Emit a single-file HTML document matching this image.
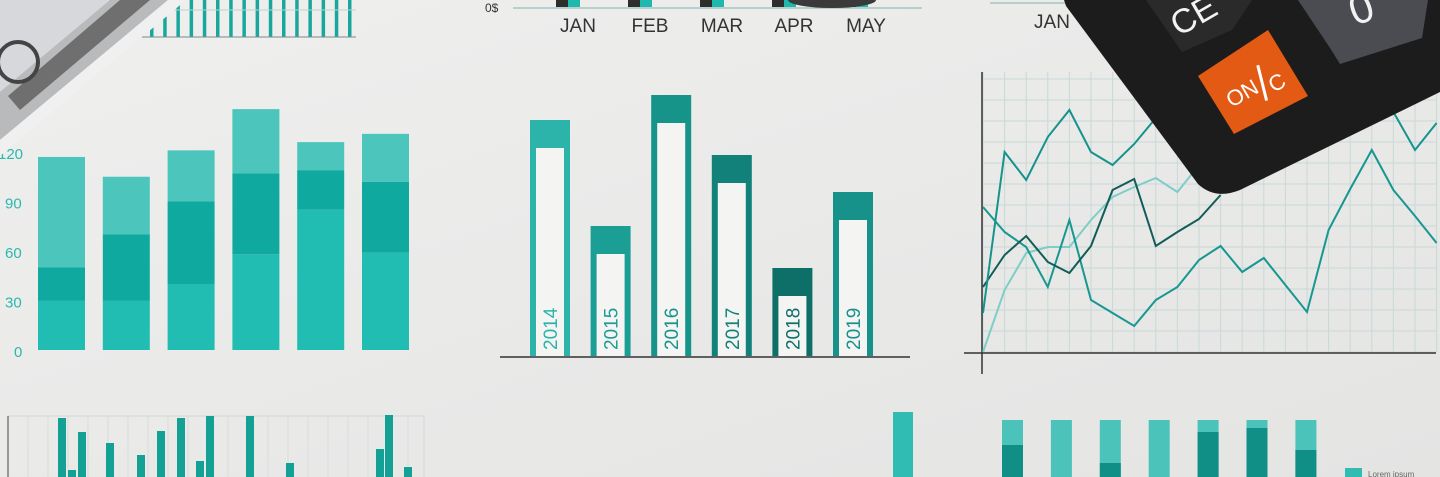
<!DOCTYPE html>
<html><head><meta charset="utf-8">
<style>
html,body{margin:0;padding:0;}
body{width:1440px;height:477px;overflow:hidden;background:#ebebea;font-family:"Liberation Sans",sans-serif;}
svg{display:block;}
</style></head>
<body>
<svg id="root" width="1440" height="477" viewBox="0 0 1440 477">
  <defs>
    <linearGradient id="bg" x1="0" y1="0" x2="1" y2="1">
      <stop offset="0" stop-color="#efefee"/><stop offset="1" stop-color="#e4e4e3"/>
    </linearGradient>
  </defs>
  <rect width="1440" height="477" fill="url(#bg)"/>
  <g id="stacked"></g>
  <g id="years"></g>
  <g id="lines"></g>
  <g id="top"></g>
  <g id="bottom"></g>
  <!-- banknote -->
  <g>
    <polygon points="0,0 186,0 0,156" fill="#e6e6e6"/>
    <polygon points="0,0 168,0 0,140" fill="#b9babc"/>
    <polygon points="0,0 110,0 0,92" fill="#d6d8dc"/>
    <polygon points="120,0 150,0 20,110 8,96" fill="#6f6f6f"/>
    <circle cx="18" cy="62" r="20" fill="none" stroke="#444" stroke-width="4"/>
    <polygon points="168,0 186,0 0,156 0,140" fill="#f0f0f0"/>
  </g>
  <!-- calculator -->
  <g>
    <path d="M1064,0 L1440,0 L1440,92 L1240,190 Q1215,200 1198,184 L1066,6 Z" fill="#1c1c1c"/>
    <polygon points="1146,0 1252,0 1232,30 1182,52" fill="#2a2a2a"/>
    <text x="1170" y="26" fill="#f2f2f2" font-size="34" transform="rotate(-30 1195 15)">CE</text>
    <polygon points="1298,0 1428,0 1422,38 1340,64 1330,48" fill="#4a4c52"/>
    <text x="1352" y="22" fill="#f2f2f2" font-size="42" transform="rotate(-20 1365 15)">0</text>
    <polygon points="1198,76 1268,30 1308,96 1234,134" fill="#e35a14"/>
    <g transform="rotate(-30 1253 83)">
      <text x="1222" y="94" fill="#fff" font-size="22">ON</text>
      <line x1="1266" y1="70" x2="1256" y2="105" stroke="#fff" stroke-width="3"/>
      <text x="1266" y="102" fill="#fff" font-size="22">C</text>
    </g>
  </g>
</svg>
<script>
const NS="http://www.w3.org/2000/svg";
function mk(parent,tag,attrs){const e=document.createElementNS(NS,tag);for(const k in attrs)e.setAttribute(k,attrs[k]);parent.appendChild(e);return e;}

// ---------- Stacked bar chart (left) ----------
const stackCats=["b1","b2","b3","b4","b5","b6"];
const stackLow=[30,30,40,58,85,59];
const stackMid=[20,40,50,49,24,43];
const stackTop=[67,35,31,39,17,29];
const stackTicks=[0,30,60,90,120];
(function(){
  const g=document.getElementById('stacked');
  const y0=350, k=1.65, x0=38, step=64.8, w=47;
  const yS=v=>y0-v*k;
  stackTicks.forEach(t=>{
    const tx=mk(g,'text',{x:t>=100?-2:(t===0?14:5),y:yS(t)+7,fill:'#2cb8ad','font-size':15});
    tx.textContent=t;
    
    
  });
  const cols=['#22bdb2','#0fa99f','#4cc6bc'];
  stackCats.forEach((c,i)=>{
    const x=x0+i*step;let acc=0;
    [stackLow[i],stackMid[i],stackTop[i]].forEach((v,j)=>{
      const r=mk(g,'rect',{x:x,y:yS(acc+v),width:w,height:v*k,fill:cols[j]});
      
      
      acc+=v;
    });
  });
})();

// ---------- Yearly bar chart (middle) ----------
const yearCats=["2014","2015","2016","2017","2018","2019"];
const yearVals=[236,130,261,201,88,164];
const yearCols=['#2db4aa','#1b9e94','#16948a','#12817a','#0e6f69','#16928b'];
(function(){
  const g=document.getElementById('years');
  const base=356, x0=530, step=60.6, w=40;
  const yS=v=>base-v;
  const ax=mk(g,'line',{x1:500,y1:base+1,x2:910,y2:base+1,stroke:'#333','stroke-width':1.5});
  
  
  yearCats.forEach((c,i)=>{
    const x=x0+i*step, top=yS(yearVals[i]);
    const r=mk(g,'rect',{x:x,y:top,width:w,height:base-top,fill:yearCols[i]});
    
    
    mk(g,'rect',{x:x+6,y:top+28,width:w-12,height:base-top-28,fill:'#f4f4f3'});
    const t=mk(g,'text',{x:x+w/2+7,y:base-6,fill:yearCols[i],'font-size':19,transform:`rotate(-90 ${x+w/2+7} ${base-6})`});
    t.textContent=c;
    
    
  });
})();

// ---------- Line chart (right) ----------
const lineA=[39,200,172,215,242,200,187,208,234,null,null,null,null,null,null,null,null,null,null,240,202,229];
const lineB=[145,120,105,65,132,52,39,26,52,65,92,106,80,94,67,40,122,163,202,162,136,109];
const lineC=[65,97,116,90,79,106,162,173,106,120,133,157,null,null,null,null,null,null,null,null,null,null];
const lineD=[0,62,99,105,105,132,155,165,174,160,187,null,null,null,null,null,null,null,null,null,null,null];
(function(){
  const g=document.getElementById('lines');
  const x0=983, dx=21.6, base=352;
  const xS=i=>x0+i*dx, yS=v=>base-v;
  for(let i=0;i<=21;i++){mk(g,'line',{x1:xS(i),y1:72,x2:xS(i),y2:base,stroke:'#c8d9d8','stroke-width':1});}
  for(let y=base;y>=72;y-=21){mk(g,'line',{x1:983,y1:y,x2:1436,y2:y,stroke:'#c8d9d8','stroke-width':1});}
  const xa=mk(g,'line',{x1:964,y1:353,x2:1436,y2:353,stroke:'#333','stroke-width':1.5});
  
  
  const ya=mk(g,'line',{x1:982,y1:72,x2:982,y2:374,stroke:'#333','stroke-width':1.5});
  
  
  const series=[[lineD,'#7fcdc7','series-d'],[lineB,'#169790','series-b'],[lineC,'#125c58','series-c'],[lineA,'#15938c','series-a']];
  series.forEach(([arr,col,name])=>{
    let d='';let pen=false;
    arr.forEach((v,i)=>{if(v===null){pen=false;return;}d+=(pen?'L':'M')+xS(i)+','+yS(v)+' ';pen=true;});
    const p=mk(g,'path',{d:d,fill:'none',stroke:col,'stroke-width':2,'stroke-linejoin':'miter'});
    
    
  });
})();

// ---------- Top partial charts ----------
const topBarVals=[38,38,38,38,38,38,38,38,38,38,38,38,38,38,38,38];
const months=["JAN","FEB","MAR","APR","MAY"];
(function(){
  const g=document.getElementById('top');
  topBarVals.forEach((v,i)=>{
    const r=mk(g,'rect',{x:150+i*13.2,y:37-v,width:3.5,height:v,fill:'#19a79d'});
    
    
  });
  mk(g,'line',{x1:140,y1:37,x2:356,y2:37,stroke:'#7a8b8a','stroke-width':1});
  mk(g,'line',{x1:140,y1:10,x2:356,y2:10,stroke:'#bcd3d1','stroke-width':1});
  const l=mk(g,'text',{x:485,y:12,fill:'#333','font-size':12});l.textContent='0$';
  
  
  mk(g,'line',{x1:513,y1:8,x2:922,y2:8,stroke:'#7fb3b0','stroke-width':1});
  months.forEach((m,i)=>{
    const cx=578+i*72;
    mk(g,'rect',{x:cx-22,y:0,width:12,height:7,fill:'#2d2d2d'});
    mk(g,'rect',{x:cx-10,y:0,width:12,height:7,fill:'#1fb8ad'});
    const t=mk(g,'text',{x:cx,y:32,fill:'#333','font-size':19,'text-anchor':'middle'});t.textContent=m;
    
    
  });
  mk(g,'ellipse',{cx:832,cy:0,rx:44,ry:8,fill:'#3a3a3a'});
  mk(g,'line',{x1:990,y1:3,x2:1070,y2:3,stroke:'#7fb3b0','stroke-width':1});
  const j=mk(g,'text',{x:1052,y:28,fill:'#333','font-size':19,'text-anchor':'middle'});j.textContent='JAN';
  
  
})();

// ---------- Bottom partial charts ----------
const botXs=[58,68,78,106,137,157,177,196,206,246,286,376,385,404];
const botVals=[59,7,45,34,22,46,59,16,61,61,14,28,62,10];
const rightCats=["c1","c2","c3","c4","c5","c6","c7"];
const rightDark=[32,0,14,0,45,49,27];
(function(){
  const g=document.getElementById('bottom');
  mk(g,'rect',{x:8,y:416,width:416,height:70,fill:'none',stroke:'#cfd8d7','stroke-width':1});
  for(let x=28;x<424;x+=20)mk(g,'line',{x1:x,y1:416,x2:x,y2:477,stroke:'#d6dddc'});
  mk(g,'line',{x1:8,y1:416,x2:8,y2:477,stroke:'#444','stroke-width':1});
  botVals.forEach((v,i)=>{
    const r=mk(g,'rect',{x:botXs[i],y:477-v,width:8,height:v,fill:'#13a196'});
    
    
  });
  const tb=mk(g,'rect',{x:893,y:412,width:20,height:65,fill:'#30bcb2'});
  
  
  rightCats.forEach((c,i)=>{
    const x=1002+i*48.9;
    const r=mk(g,'rect',{x:x,y:420,width:21,height:57,fill:'#4bc3ba'});
    
    
    if(rightDark[i]>0)mk(g,'rect',{x:x,y:477-rightDark[i],width:21,height:rightDark[i],fill:'#0f8f86'});
  });
  const lg=mk(g,'rect',{x:1345,y:468,width:17,height:9,fill:'#30bcb2'});
  
  
  const lt=mk(g,'text',{x:1368,y:477,fill:'#666','font-size':8});lt.textContent='Lorem ipsum';
  
  
})();
</script>
</body></html>
